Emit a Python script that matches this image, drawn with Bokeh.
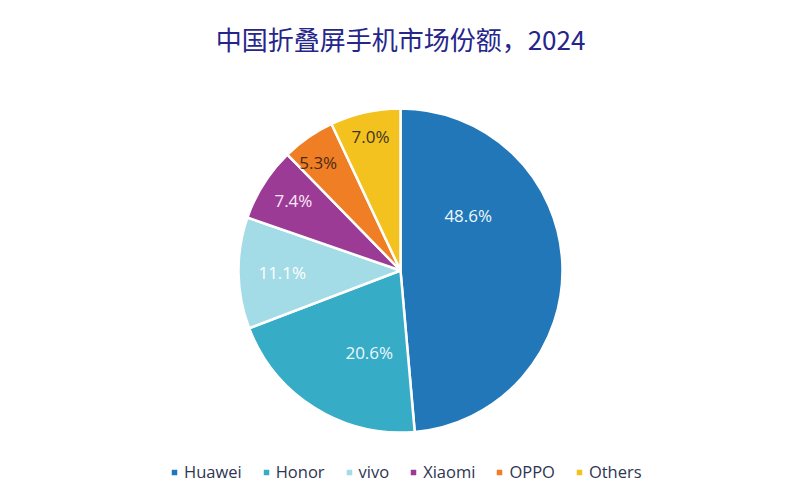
import math
from bokeh.plotting import figure
from bokeh.models import Range1d, Label, Legend, LegendItem, ColumnDataSource
from bokeh.core.properties import value
from bokeh.embed import file_html
from bokeh.resources import INLINE

# ---- data ----
title_text = "中国折叠屏手机市场份额，2024"
brands = ["Huawei", "Honor", "vivo", "Xiaomi", "OPPO", "Others"]
shares = [48.6, 20.6, 11.1, 7.4, 5.3, 7.0]

# ---- styles ----
colors = ["#2277b9", "#37acc6", "#a3dbe6", "#9c3b96", "#f07e25", "#f3c21f"]
label_colors = ["#eef7fc", "#eef7fc", "#ffffff", "#fbe9f8", "#4a2a16", "#3d3522"]
label_r_frac = [0.54, 0.54, 0.73, 0.79, 0.84, 0.85]   # label distance / radius
label_t_frac = [0.29, 0.35, 0.50, 0.53, 0.37, 0.50]   # position within slice span

W, H = 784, 484
CX, CY, R = 400, 214, 162

p = figure(width=W, height=H, output_backend="svg", toolbar_location=None,
           x_range=Range1d(0, W), y_range=Range1d(0, H), min_border=0)
p.axis.visible = False
p.grid.visible = False
p.outline_line_color = None
p.background_fill_color = "white"
p.border_fill_color = "white"

total = sum(shares)
starts, ends, lx, ly, ltxt = [], [], [], [], []
cum = 0.0
for i, s in enumerate(shares):
    a0 = math.pi / 2 - 2 * math.pi * cum / total
    a1 = math.pi / 2 - 2 * math.pi * (cum + s) / total
    starts.append(a0)
    ends.append(a1)
    am = a0 + (a1 - a0) * label_t_frac[i]
    rr = R * label_r_frac[i]
    lx.append(CX + rr * math.cos(am))
    ly.append(CY + rr * math.sin(am))
    ltxt.append(f"{s:.1f}%")
    cum += s

src = ColumnDataSource(dict(start=starts, end=ends, color=colors, brand=brands,
                            lx=lx, ly=ly, ltxt=ltxt, lcol=label_colors))

wedges = p.wedge(x=CX, y=CY, radius=R, start_angle="start", end_angle="end",
                 direction="clock", fill_color="color", line_color="white",
                 line_width=2.5, source=src)

p.text(x="lx", y="ly", text="ltxt", text_color="lcol", source=src,
       text_align="center", text_baseline="middle",
       text_font=value("Open Sans"), text_font_size="17px")

title = Label(x=400, y=H - 38, x_units="screen", y_units="screen",
              text=title_text, text_align="center", text_baseline="middle",
              text_font="Noto Sans CJK SC", text_font_size="26px",
              text_color="#26268a")
p.add_layout(title)

items = [LegendItem(label=b, renderers=[wedges], index=i) for i, b in enumerate(brands)]
legend = Legend(items=items, orientation="horizontal", location=(169, 1),
                label_text_font="Open Sans", label_text_font_size="16.5px",
                label_text_color="#2e3552", glyph_width=10, glyph_height=10,
                label_standoff=5, spacing=19, padding=0, margin=0,
                border_line_color=None, background_fill_alpha=0)
p.add_layout(legend)

open("out.html", "w").write(file_html(p, INLINE))
